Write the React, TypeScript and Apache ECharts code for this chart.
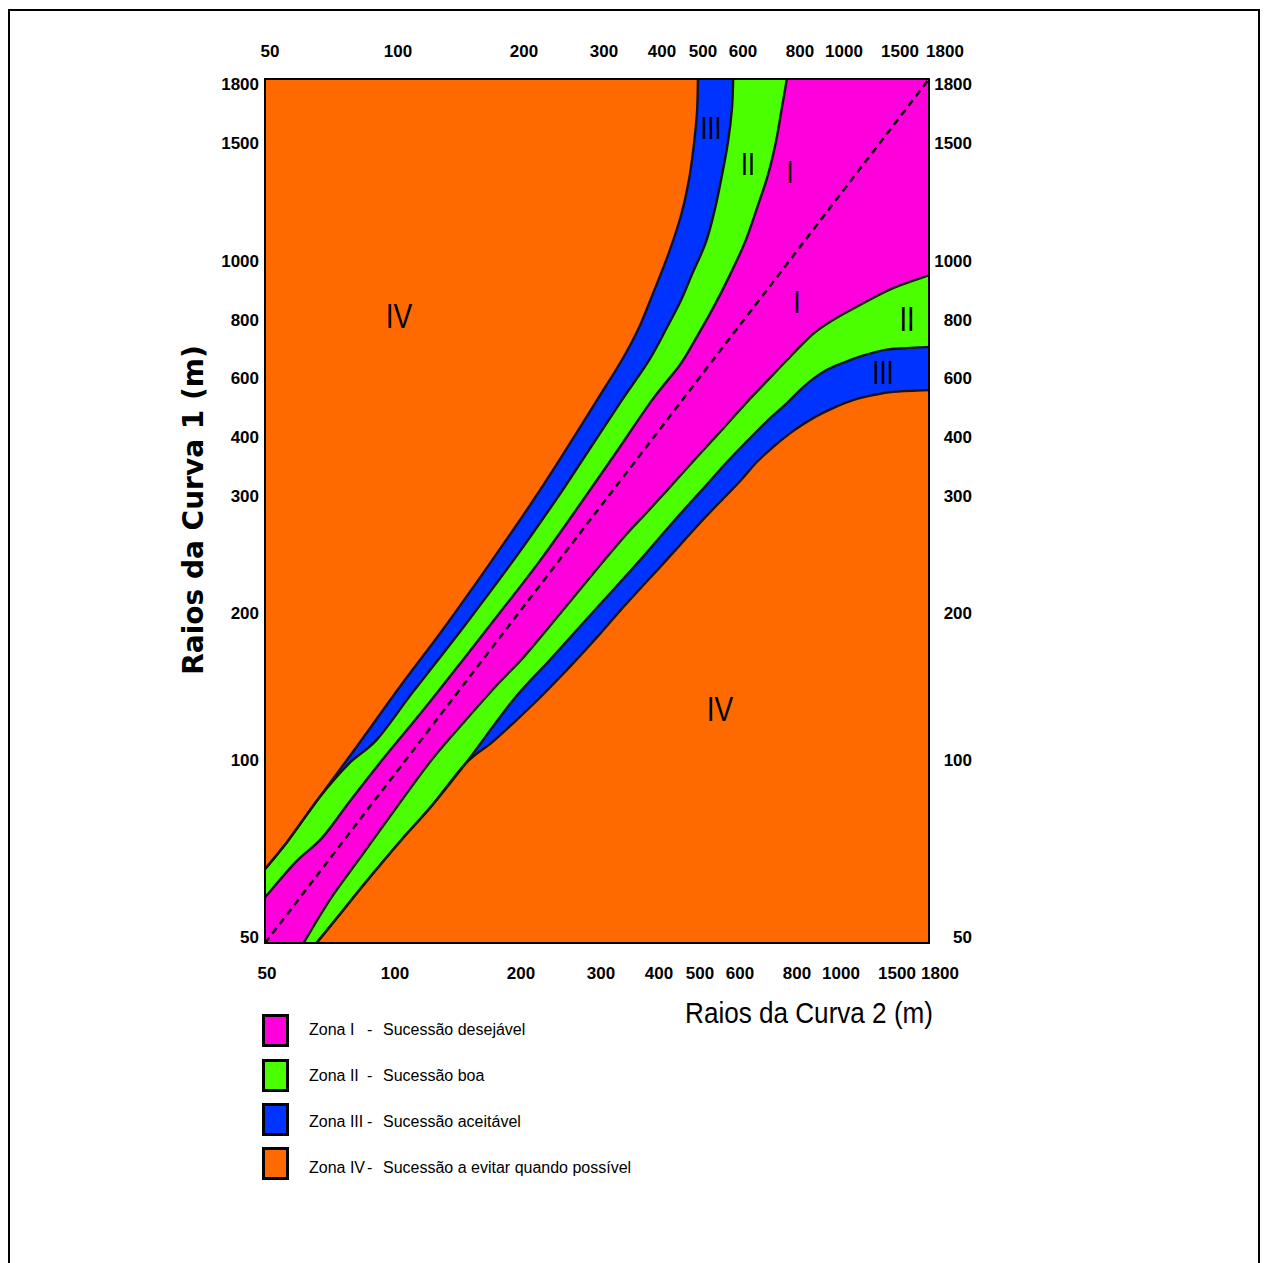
import React, { useEffect, useRef } from "react";
import * as echarts from "echarts";

// ---- the nomogram's own radius scales (neither linear nor logarithmic) ----
const X_TICKS = [50, 100, 200, 300, 400, 500, 600, 800, 1000, 1500, 1800];
const Y_TICKS = [50, 100, 200, 300, 400, 600, 800, 1000, 1500, 1800];
// where each tick sits along its axis (axis units = px from plot left / bottom)
const X_SCALE_POS = [2, 130, 256, 336, 394, 435, 475, 532, 576, 632, 677];
const Y_SCALE_POS = [6, 183, 330, 447, 506, 565, 623, 682, 800, 859];
const X_SPAN = 664;
const Y_SPAN = 864;

// ---- zone boundaries, [Raio da Curva 2, Raio da Curva 1] in metres ----
const UPPER_IV_III = [[495,1830],[493,1668],[485,1492],[473,1343],[454,1195],[422,1025],[390,892],[366,776],[336,662],[295,525],[256,378],[216,297],[177,245],[139,190],[104,150],[85,109],[70,89],[58,77],[49,69]];
const UPPER_III_II = [[583,1830],[580,1678],[570,1505],[555,1364],[538,1225],[515,1081],[480,953],[454,868],[420,776],[383,662],[336,525],[285,378],[244,297],[194,245],[154,190],[114,146],[93,114],[82,99],[70,89],[58,77],[49,69]];
const UPPER_II_I = [[765,1830],[747,1678],[726,1505],[698,1364],[660,1225],[618,1081],[575,953],[533,841],[485,724],[451,645],[388,525],[329,378],[278,297],[224,245],[183,200],[129,141],[95,100],[82,88],[71.5,78],[61,71],[49,61]];
const LOWER_I_II = [[1720,953],[1464,908],[1170,851],[964,800],[873,752],[765,662],[695,590],[625,519],[568,444],[518,385],[468,347],[420,310],[379,286],[345,268],[299,241],[258,207],[205,171],[182,152],[156,127],[129,100],[102,87],[88,74],[75,61],[64,48]];
const LOWER_II_III = [[1720,707],[1567,703],[1393,697],[1188,676],[1018,652],[936,628],[873,597],[814,559],[765,515],[695,454],[625,393],[568,358],[518,320],[468,291],[420,272],[367,245],[289,200],[236,168],[194,141],[156,99],[129,87],[104,77],[88,65],[78,56],[69,48]];
const LOWER_III_IV = [[1720,559],[1464,553],[1286,542],[1107,525],[964,498],[873,464],[786,420],[716,383],[660,358],[600,325],[550,295],[500,277],[451,258],[402,239],[367,220.5],[333,202],[299,186],[274,171],[249,156.5],[221,141],[195,126],[177,112],[156,99],[129,87],[104,77],[88,65],[78,56],[69,48]];

const ZONE_NAMES = ["Zona I", "Zona II", "Zona III", "Zona IV"];
const ZONE_DESCS = ["Sucessão desejável", "Sucessão boa", "Sucessão aceitável", "Sucessão a evitar quando possível"];
const X_TITLE = "Raios da Curva 2 (m)";
const Y_TITLE = "Raios da Curva 1 (m)";

// ---- styles / layout ----
const MAGENTA = "#FF00DC";
const GREEN = "#4CFF00";
const BLUE = "#0033FF";
const ORANGE = "#FF6A00";
const ZONE_COLORS = [MAGENTA, GREEN, BLUE, ORANGE];
const SANS = "'Liberation Sans', Arial, sans-serif";
const EDGE_COLOR = "#141414";
const ROMAN_LABELS = [
  { t: "IV", x: 399, y: 316, s: 36 },
  { t: "IV", x: 720, y: 709, s: 36 },
  { t: "III", x: 711, y: 128, s: 32 },
  { t: "II", x: 748, y: 164, s: 32 },
  { t: "I", x: 790, y: 172, s: 32 },
  { t: "I", x: 797, y: 302, s: 32 },
  { t: "II", x: 907, y: 319, s: 35 },
  { t: "III", x: 883, y: 372, s: 33 },
];

function scalePos(v: number, ticks: number[], at: number[]) {
  let i = 0;
  while (i < ticks.length - 2 && v > ticks[i + 1]) i++;
  const t = (v - ticks[i]) / (ticks[i + 1] - ticks[i]);
  return at[i] + t * (at[i + 1] - at[i]);
}
const toXY = (p: number[]) => [scalePos(p[0], X_TICKS, X_SCALE_POS), scalePos(p[1], Y_TICKS, Y_SCALE_POS)];

const X_LABEL_POS = X_SCALE_POS.map((p) => Math.min(p, X_SPAN));
const labelFor = (v: number, at: number[], ticks: number[]) => {
  const i = at.findIndex((p) => Math.abs(p - v) < 0.01);
  return i >= 0 ? String(ticks[i]) : "";
};

// Catmull-Rom curve through the given pixel points, as SVG path commands
function curve(pts: number[][], start: "M" | "L") {
  const f = (p: number[]) => `${p[0].toFixed(2)},${p[1].toFixed(2)}`;
  let d = `${start}${f(pts[0])}`;
  const n = pts.length;
  for (let i = 0; i < n - 1; i++) {
    const p0 = pts[Math.max(i - 1, 0)];
    const p1 = pts[i];
    const p2 = pts[i + 1];
    const p3 = pts[Math.min(i + 2, n - 1)];
    const c1 = [p1[0] + (p2[0] - p0[0]) / 6, p1[1] + (p2[1] - p0[1]) / 6];
    const c2 = [p2[0] - (p3[0] - p1[0]) / 6, p2[1] - (p3[1] - p1[1]) / 6];
    d += `C${f(c1)} ${f(c2)} ${f(p2)}`;
  }
  return d;
}

function zoneSeries(upper: number[][], lower: number[][], color: string) {
  return {
    type: "custom",
    clip: true,
    silent: true,
    z: 2,
    data: [[0, 0]],
    renderItem: (_p: any, api: any) => {
      const up = upper.map((p) => api.coord(toXY(p)));
      const lo = lower.slice().reverse().map((p) => api.coord(toXY(p)));
      const bl = api.coord([-3, -3]);
      const tr = api.coord([X_SPAN + 3, Y_SPAN + 3]);
      const d = `${curve(up, "M")}L${bl[0]},${bl[1]}${curve(lo, "L")}L${tr[0]},${tr[1]}Z`;
      return { type: "path", shape: { pathData: d }, style: { fill: color, stroke: null } };
    },
  };
}

const BOUNDARIES = [UPPER_IV_III, UPPER_III_II, UPPER_II_I, LOWER_I_II, LOWER_II_III, LOWER_III_IV];

const tickFont = { fontFamily: SANS, fontWeight: "bold", fontSize: 17, color: "#000" };

export default function App() {
  const ref = useRef<HTMLDivElement>(null);
  useEffect(() => {
    document.body.style.margin = "0";
    const chart = echarts.init(ref.current!, null, { renderer: "svg" });

    const graphic: any[] = [
      {
        type: "polyline",
        shape: { points: [[9, 1270], [9, 10], [1259, 10], [1259, 1270]] },
        style: { stroke: "#000", lineWidth: 2, fill: null },
        silent: true,
      },
      {
        type: "text",
        x: 193,
        y: 510,
        rotation: Math.PI / 2,
        style: {
          text: Y_TITLE,
          fontFamily: "'DejaVu Sans', sans-serif",
          fontWeight: "bold",
          fontSize: 28,
          fill: "#000",
          align: "center",
          verticalAlign: "middle",
        },
      },
      {
        type: "text",
        x: 933,
        y: 1013,
        scaleX: 0.87,
        style: {
          text: X_TITLE,
          fontFamily: SANS,
          fontSize: 30,
          fill: "#000",
          align: "right",
          verticalAlign: "middle",
        },
      },
    ];
    const boxTops = [1015.5, 1060.5, 1104.5, 1148.5];
    const textYs = [1029, 1075, 1121, 1167];
    ZONE_NAMES.forEach((n, i) => {
      graphic.push({
        type: "rect",
        shape: { x: 263.5, y: boxTops[i], width: 24, height: 30 },
        style: { fill: ZONE_COLORS[i], stroke: "#000", lineWidth: 3 },
        silent: true,
      });
      const base = { fontFamily: SANS, fontSize: 16, fill: "#000", verticalAlign: "middle" };
      graphic.push({ type: "text", x: 309, y: textYs[i], style: { ...base, text: n } });
      graphic.push({ type: "text", x: 367, y: textYs[i], style: { ...base, text: "-" } });
      graphic.push({ type: "text", x: 383, y: textYs[i], style: { ...base, text: ZONE_DESCS[i] } });
    });
    ROMAN_LABELS.forEach((l) => {
      graphic.push({
        type: "text",
        x: l.x,
        y: l.y,
        z: 100,
        scaleX: 0.78,
        style: { text: l.t, fontFamily: SANS, fontSize: l.s, fill: "#000", align: "center", verticalAlign: "middle" },
      });
    });

    const axisCommon = {
      type: "value",
      z: 10,
      splitLine: { show: false },
      axisTick: { show: false },
      axisLine: { show: true, onZero: false, lineStyle: { color: "#000", width: 2 } },
    };

    chart.setOption({
      animation: false,
      grid: {
        left: 265,
        top: 79,
        width: X_SPAN,
        height: Y_SPAN,
        show: true,
        backgroundColor: ORANGE,
        borderWidth: 0,
      },
      xAxis: [
        {
          ...axisCommon,
          min: 0,
          max: X_SPAN,
          position: "bottom",
          axisLabel: {
            ...tickFont,
            margin: 22,
            showMinLabel: true,
            showMaxLabel: true,
            customValues: X_LABEL_POS,
            formatter: (v: number) => {
              const s = labelFor(v, X_LABEL_POS, X_TICKS);
              return v >= X_SPAN ? `{e|${s}}` : s;
            },
            rich: { e: { ...tickFont, padding: [0, 0, 0, 22] } },
          },
        },
        {
          ...axisCommon,
          min: 0,
          max: X_SPAN,
          position: "top",
          axisLabel: {
            ...tickFont,
            margin: 19,
            showMinLabel: true,
            showMaxLabel: true,
            customValues: X_LABEL_POS,
            formatter: (v: number) => {
              const s = labelFor(v, X_LABEL_POS, X_TICKS);
              return v >= X_SPAN ? `{e|${s}}` : `{t|${s}}`;
            },
            rich: { t: { ...tickFont, padding: [0, 0, 0, 6] }, e: { ...tickFont, padding: [0, 0, 0, 32] } },
          },
        },
      ],
      yAxis: [
        {
          ...axisCommon,
          min: 0,
          max: Y_SPAN,
          position: "left",
          axisLabel: {
            ...tickFont,
            margin: 6,
            showMinLabel: true,
            showMaxLabel: true,
            customValues: Y_SCALE_POS,
            formatter: (v: number) => labelFor(v, Y_SCALE_POS, Y_TICKS),
          },
        },
        {
          ...axisCommon,
          min: 0,
          max: Y_SPAN,
          position: "right",
          axisLabel: {
            ...tickFont,
            margin: 43,
            align: "right",
            showMinLabel: true,
            showMaxLabel: true,
            customValues: Y_SCALE_POS,
            formatter: (v: number) => labelFor(v, Y_SCALE_POS, Y_TICKS),
          },
        },
      ],
      series: [
        zoneSeries(UPPER_IV_III, LOWER_III_IV, BLUE),
        zoneSeries(UPPER_III_II, LOWER_II_III, GREEN),
        zoneSeries(UPPER_II_I, LOWER_I_II, MAGENTA),
        {
          type: "custom",
          clip: true,
          silent: true,
          z: 5,
          data: [[0, 0]],
          renderItem: (_p: any, api: any) => ({
            type: "group",
            children: BOUNDARIES.map((b) => ({
              type: "path",
              shape: { pathData: curve(b.map((p) => api.coord(toXY(p))), "M") },
              style: { stroke: EDGE_COLOR, lineWidth: 2.4, fill: null },
            })),
          }),
        },
        {
          type: "line",
          data: [[0, 0], [X_SPAN, Y_SPAN]],
          symbol: "none",
          silent: true,
          z: 6,
          lineStyle: { color: "#000", width: 2.5, type: [7, 5] },
          emphasis: { disabled: true },
        },
      ],
      graphic,
    });
    return () => chart.dispose();
  }, []);
  return <div ref={ref} style={{ width: 1266, height: 1263 }} />;
}
